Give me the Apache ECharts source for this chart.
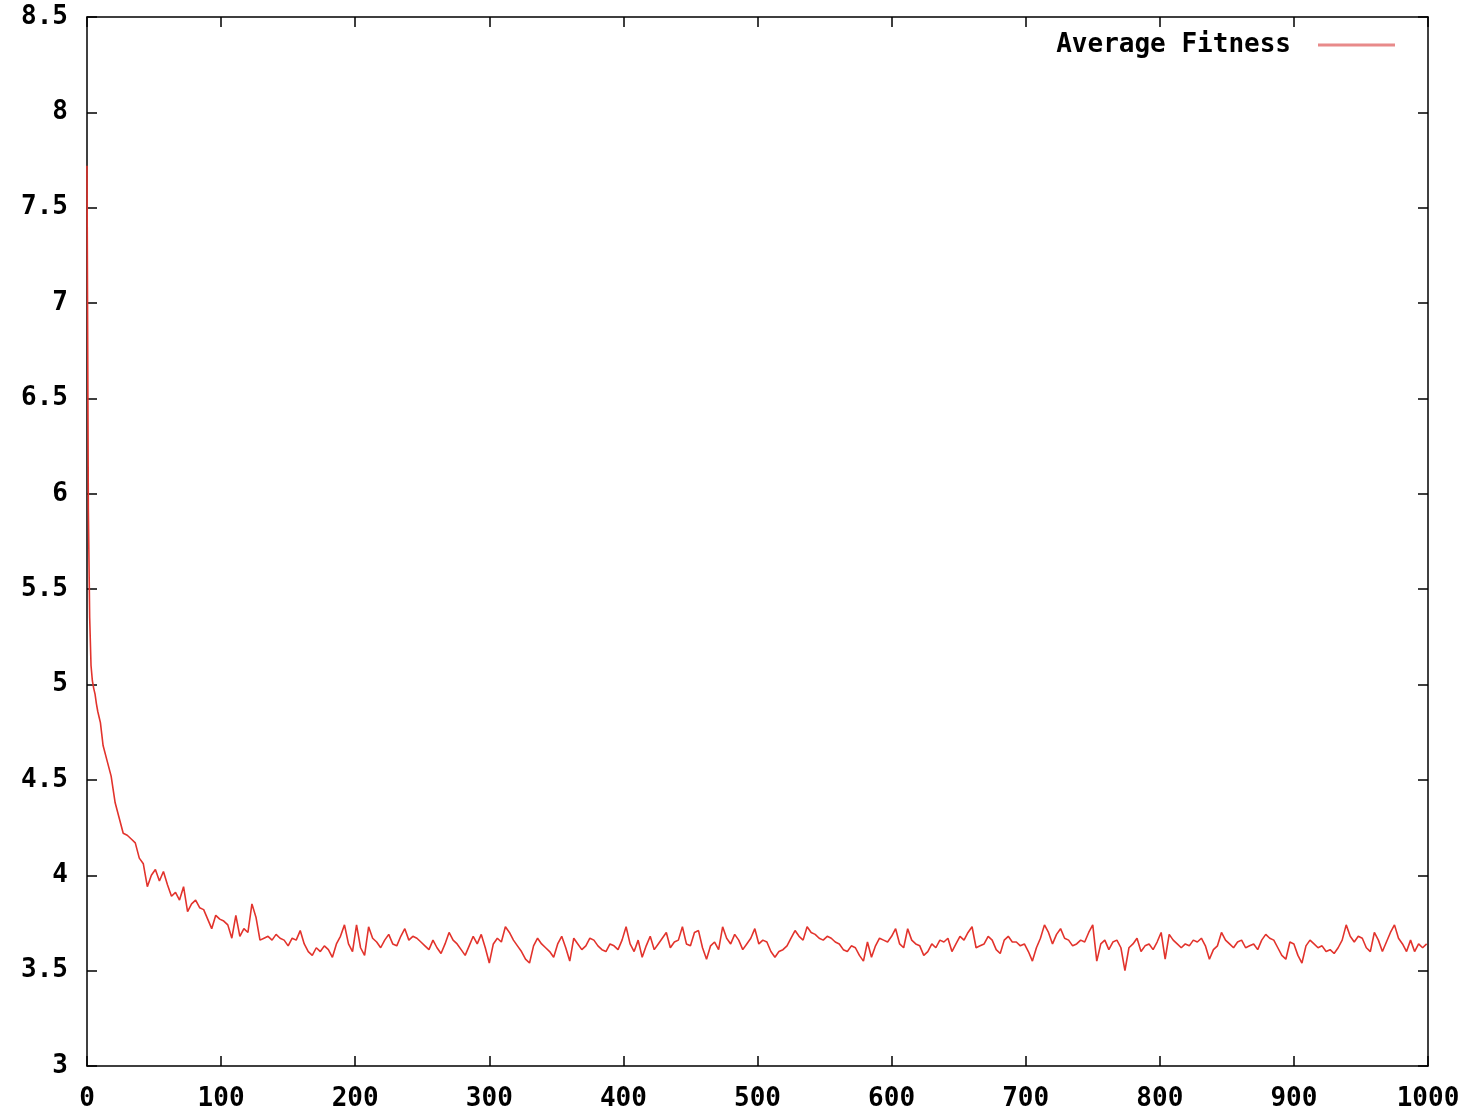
<!DOCTYPE html>
<html>
<head>
<meta charset="utf-8">
<title>Average Fitness</title>
<script src="https://cdn.jsdelivr.net/npm/echarts@6/dist/echarts.min.js"></script>
<style>
  html, body { margin: 0; padding: 0; background: #fff; }
  #chart { width: 1476px; height: 1112px; }
</style>
</head>
<body>
<div id="chart"></div>
<script>
// first generations, read one by one (steep drop)
var headGen = [0, 1, 2, 3, 4, 5, 6, 7, 8, 9, 10, 11];
var headFit = [7.72, 5.92, 5.35, 5.10, 5.02, 4.98, 4.95, 4.90, 4.86, 4.83, 4.80, 4.74];

// after that: one reading every 3 generations, from gen 12 to 999
var tailStart = 12;
var tailStep = 3;
var tailFit = [
    4.68, 4.60, 4.52, 4.38, 4.30, 4.22, 4.21, 4.19, 4.17, 4.09,
    4.06, 3.94, 4.00, 4.03, 3.97, 4.02, 3.95, 3.89, 3.91, 3.87,
    3.94, 3.81, 3.85, 3.87, 3.83, 3.82, 3.77, 3.72, 3.79, 3.77,
    3.76, 3.74, 3.67, 3.79, 3.68, 3.72, 3.70, 3.85, 3.78, 3.66,
    3.67, 3.68, 3.66, 3.69, 3.67, 3.66, 3.63, 3.67, 3.66, 3.71,
    3.64, 3.60, 3.58, 3.62, 3.60, 3.63, 3.61, 3.57, 3.64, 3.68,
    3.74, 3.64, 3.60, 3.74, 3.62, 3.58, 3.73, 3.67, 3.65, 3.62,
    3.66, 3.69, 3.64, 3.63, 3.68, 3.72, 3.66, 3.68, 3.67, 3.65,
    3.63, 3.61, 3.66, 3.62, 3.59, 3.64, 3.70, 3.66, 3.64, 3.61,
    3.58, 3.63, 3.68, 3.64, 3.69, 3.62, 3.54, 3.64, 3.67, 3.65,
    3.73, 3.70, 3.66, 3.63, 3.60, 3.56, 3.54, 3.63, 3.67, 3.64,
    3.62, 3.60, 3.57, 3.64, 3.68, 3.62, 3.55, 3.67, 3.64, 3.61,
    3.63, 3.67, 3.66, 3.63, 3.61, 3.60, 3.64, 3.63, 3.61, 3.66,
    3.73, 3.64, 3.60, 3.66, 3.57, 3.63, 3.68, 3.61, 3.64, 3.67,
    3.70, 3.62, 3.65, 3.66, 3.73, 3.64, 3.63, 3.70, 3.71, 3.62,
    3.56, 3.63, 3.65, 3.61, 3.73, 3.67, 3.64, 3.69, 3.66, 3.61,
    3.64, 3.67, 3.72, 3.64, 3.66, 3.65, 3.60, 3.57, 3.60, 3.61,
    3.63, 3.67, 3.71, 3.68, 3.66, 3.73, 3.70, 3.69, 3.67, 3.66,
    3.68, 3.67, 3.65, 3.64, 3.61, 3.60, 3.63, 3.62, 3.58, 3.55,
    3.65, 3.57, 3.63, 3.67, 3.66, 3.65, 3.68, 3.72, 3.64, 3.62,
    3.72, 3.66, 3.64, 3.63, 3.58, 3.60, 3.64, 3.62, 3.66, 3.65,
    3.67, 3.60, 3.64, 3.68, 3.66, 3.70, 3.73, 3.62, 3.63, 3.64,
    3.68, 3.66, 3.61, 3.59, 3.66, 3.68, 3.65, 3.65, 3.63, 3.64,
    3.60, 3.55, 3.62, 3.67, 3.74, 3.70, 3.64, 3.69, 3.72, 3.67,
    3.66, 3.63, 3.64, 3.66, 3.65, 3.70, 3.74, 3.55, 3.64, 3.66,
    3.61, 3.65, 3.66, 3.62, 3.50, 3.62, 3.64, 3.67, 3.60, 3.63,
    3.64, 3.61, 3.65, 3.70, 3.56, 3.69, 3.66, 3.64, 3.62, 3.64,
    3.63, 3.66, 3.65, 3.67, 3.63, 3.56, 3.61, 3.63, 3.70, 3.66,
    3.64, 3.62, 3.65, 3.66, 3.62, 3.63, 3.64, 3.61, 3.66, 3.69,
    3.67, 3.66, 3.62, 3.58, 3.56, 3.65, 3.64, 3.58, 3.54, 3.63,
    3.66, 3.64, 3.62, 3.63, 3.60, 3.61, 3.59, 3.62, 3.66, 3.74,
    3.68, 3.65, 3.68, 3.67, 3.62, 3.60, 3.70, 3.66, 3.60, 3.65,
    3.70, 3.74, 3.67, 3.64, 3.60, 3.66, 3.60, 3.64, 3.62, 3.64
];

var seriesName = 'Average Fitness';

function $each(arr, fn) {
    for (var i = 0; i < arr.length; i++) fn(i, arr[i]);
}

var points = [];
$each(headGen, function (k, g) { points.push([g, headFit[k]]) });
$each(tailFit, function (k, v) { points.push([tailStart + k * tailStep, v]) });

var font = '"DejaVu Sans Mono", monospace';
var axisLine = { show: true, onZero: false, lineStyle: { color: '#000', width: 1.5 } };
var tick = { show: true, inside: true, length: 10, lineStyle: { color: '#000', width: 1.5 } };
var label = { color: '#000', fontFamily: font, fontWeight: 'bold', fontSize: 26 };

var myChart = echarts.init(document.getElementById('chart'));
var option = {
    animation: false,
    backgroundColor: '#fff',
    grid: { left: 87, right: 48, top: 17, bottom: 45, containLabel: false },
    legend: {
        right: 76,
        top: 27,
        align: 'right',
        itemWidth: 77,
        itemHeight: 3,
        itemGap: 0,
        textStyle: { color: '#000', fontFamily: font, fontWeight: 'bold', fontSize: 26, padding: [0, 22, 0, 0] },
        data: [{ name: seriesName, icon: 'rect', itemStyle: { color: '#e88a8a' } }]
    },
    xAxis: [{
        type: 'value', position: 'bottom', min: 0, max: 1000, interval: 100,
        axisLine: axisLine, axisTick: tick, splitLine: { show: false },
        axisLabel: Object.assign({ margin: 20, formatter: function (v) { return String(v) } }, label)
    }, {
        type: 'value', position: 'top', min: 0, max: 1000, interval: 100,
        axisLine: axisLine, axisTick: tick, splitLine: { show: false },
        axisLabel: { show: false }
    }],
    yAxis: [{
        type: 'value', position: 'left', min: 3, max: 8.5, interval: 0.5,
        axisLine: axisLine, axisTick: tick, splitLine: { show: false },
        axisLabel: Object.assign({ margin: 19, formatter: function (v) { return String(v) } }, label)
    }, {
        type: 'value', position: 'right', min: 3, max: 8.5, interval: 0.5,
        axisLine: axisLine, axisTick: tick, splitLine: { show: false },
        axisLabel: { show: false }
    }],
    series: [{
        name: seriesName,
        type: 'line',
        xAxisIndex: 0,
        yAxisIndex: 0,
        showSymbol: false,
        symbol: 'none',
        data: points,
        lineStyle: { color: '#e2332c', width: 1.6 },
        itemStyle: { color: '#e2332c' }
    }]
};
myChart.setOption(option);
</script>
</body>
</html>
